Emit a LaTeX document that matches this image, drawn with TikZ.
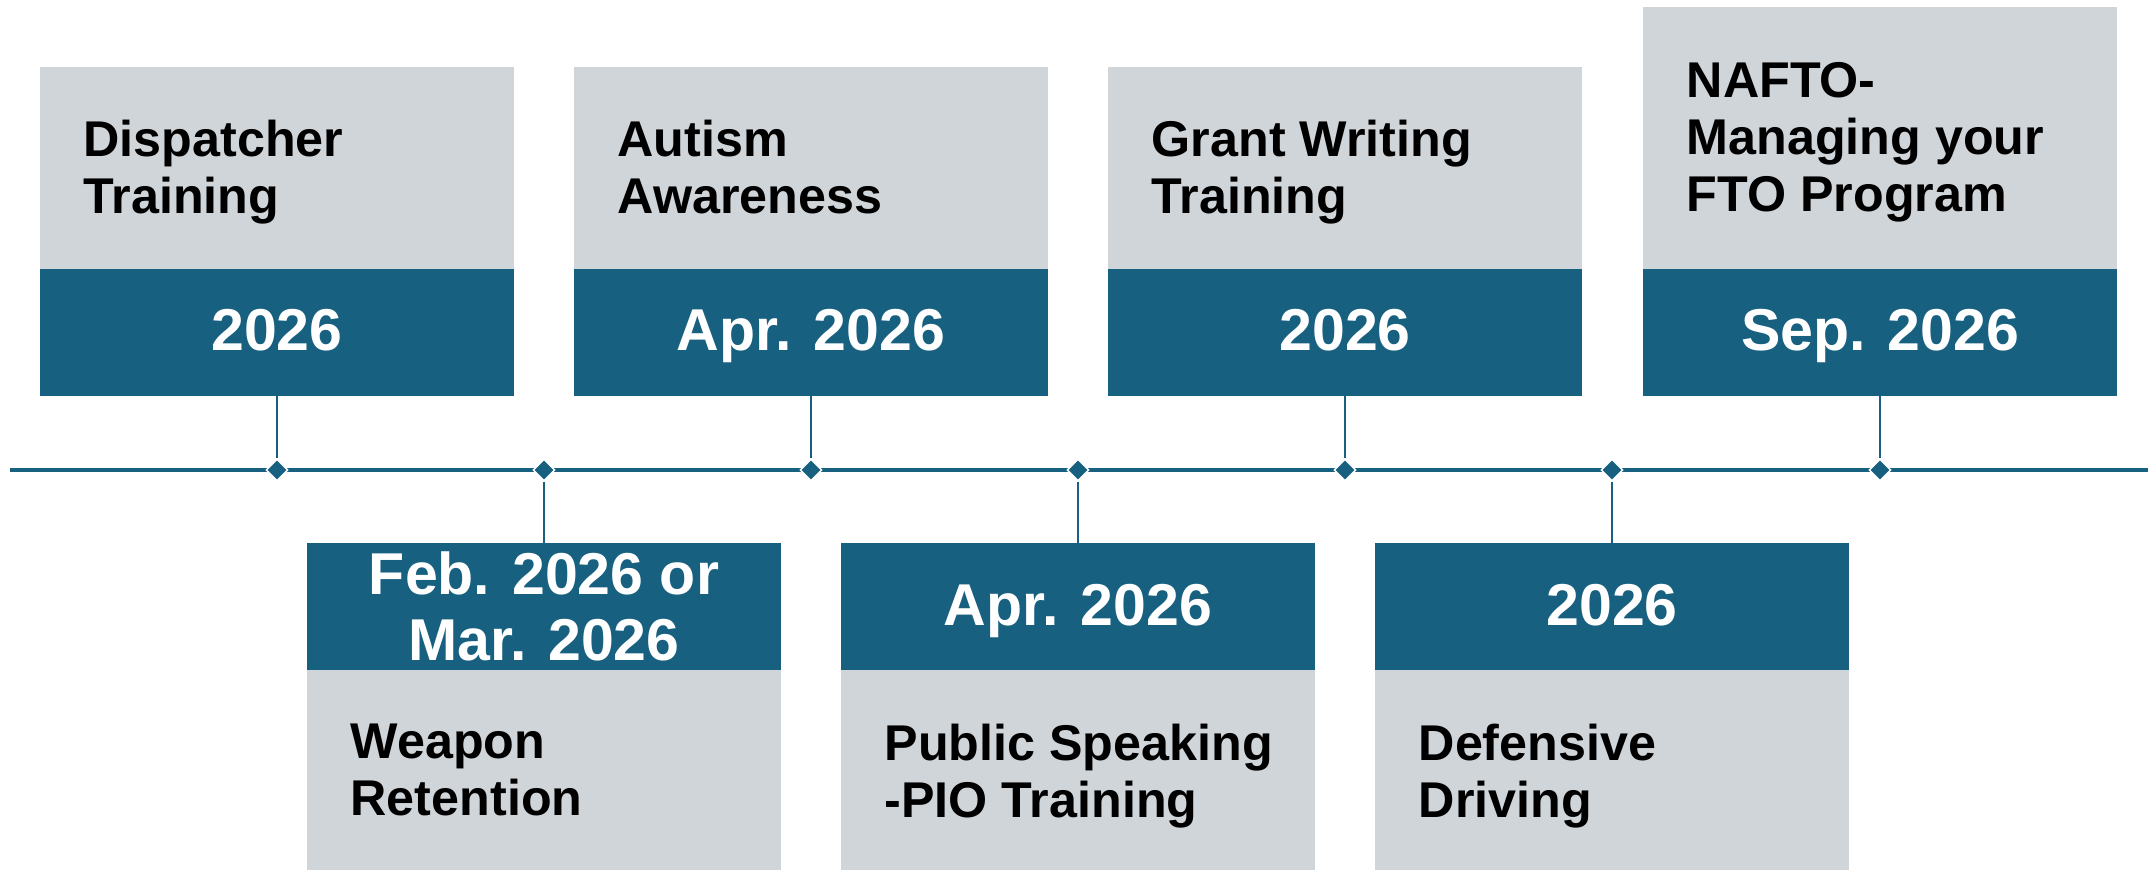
\documentclass[tikz,border=0pt]{standalone}
\usepackage{fontspec}
\setmainfont{Liberation Sans}
\usetikzlibrary{shapes.geometric}
\definecolor{tlblue}{HTML}{186080}
\definecolor{tlgray}{HTML}{D0D5DA}
\tikzset{
  datebox/.style={rectangle, fill=tlblue, minimum width=4.74cm, minimum height=1.275cm, inner sep=0pt, outer sep=0pt},
  topicbox/.style={rectangle, fill=tlgray, minimum width=4.74cm, inner sep=0pt, outer sep=0pt},
  topictext/.style={anchor=north west, inner sep=0pt, align=left, font=\fontsize{14.3}{16.3}\selectfont\bfseries, text=black},
  datetext/.style={inner sep=0pt, align=center, font=\fontsize{16.8}{19}\selectfont\bfseries, text=white},
  milestone/.style={diamond, fill=tlblue, draw=white, line width=0.4pt, minimum width=0.22cm, minimum height=0.22cm, inner sep=0pt},
  stem/.style={draw=tlblue, line width=0.6pt},
  timeline/.style={draw=tlblue, line width=0.95pt}
}
\begin{document}
\begin{tikzpicture}
\useasboundingbox (0,0) rectangle (21.48,-8.69);
\fill[white] (0,0) rectangle (21.48,-8.69);

% timeline
\coordinate (tlstart) at (0.10,-4.70);
\coordinate (tlend) at (21.48,-4.70);
\draw[timeline] (tlstart) -- (tlend);

% milestones
\node[milestone] (m1) at (2.77,-4.70) {};
\node[milestone] (m2) at (5.44,-4.70) {};
\node[milestone] (m3) at (8.11,-4.70) {};
\node[milestone] (m4) at (10.78,-4.70) {};
\node[milestone] (m5) at (13.45,-4.70) {};
\node[milestone] (m6) at (16.12,-4.70) {};
\node[milestone] (m7) at (18.80,-4.70) {};

% upper boxes
\node[datebox, anchor=north] (b1) at (2.77,-2.685) {};
\node[topicbox, minimum height=2.015cm, anchor=south] (g1) at (b1.north) {};
\node[topictext] (t1) at (0.83,-1.19) {Dispatcher\\Training};
\node[datetext, anchor=base] (d1) at (2.77,-3.505) {2026};

\node[datebox, anchor=north] (b3) at (8.11,-2.685) {};
\node[topicbox, minimum height=2.015cm, anchor=south] (g3) at (b3.north) {};
\node[topictext] (t3) at (6.17,-1.19) {Autism\\Awareness};
\node[datetext, anchor=base] (d3) at (8.11,-3.505) {Apr. 2026};

\node[datebox, anchor=north] (b5) at (13.45,-2.685) {};
\node[topicbox, minimum height=2.015cm, anchor=south] (g5) at (b5.north) {};
\node[topictext] (t5) at (11.51,-1.19) {Grant Writing\\Training};
\node[datetext, anchor=base] (d5) at (13.45,-3.505) {2026};

\node[datebox, anchor=north] (b7) at (18.80,-2.685) {};
\node[topicbox, minimum height=2.615cm, anchor=south] (g7) at (b7.north) {};
\node[topictext] (t7) at (16.86,-0.615) {NAFTO-\\Managing your\\FTO Program};
\node[datetext, anchor=base] (d7) at (18.80,-3.505) {Sep. 2026};

% lower boxes
\node[datebox, anchor=north, minimum height=1.27cm] (b2) at (5.44,-5.43) {};
\node[topicbox, minimum height=2.01cm, anchor=north] (g2) at (b2.south) {};
\node[topictext] (t2) at (3.50,-7.23) {Weapon\\Retention};
\node[datetext] (d2) at (5.44,-6.065) {Feb. 2026 or\\Mar. 2026};

\node[datebox, anchor=north, minimum height=1.27cm] (b4) at (10.78,-5.43) {};
\node[topicbox, minimum height=2.01cm, anchor=north] (g4) at (b4.south) {};
\node[topictext] (t4) at (8.84,-7.23) {Public Speaking\\-PIO Training};
\node[datetext, anchor=base] (d4) at (10.78,-6.255) {Apr. 2026};

\node[datebox, anchor=north, minimum height=1.27cm] (b6) at (16.12,-5.43) {};
\node[topicbox, minimum height=2.01cm, anchor=north] (g6) at (b6.south) {};
\node[topictext] (t6) at (14.18,-7.23) {Defensive\\Driving};
\node[datetext, anchor=base] (d6) at (16.12,-6.255) {2026};

% stems
\draw[stem] (b1.south) -- (m1.north);
\draw[stem] (b3.south) -- (m3.north);
\draw[stem] (b5.south) -- (m5.north);
\draw[stem] (b7.south) -- (m7.north);
\draw[stem] (m2.south) -- (b2.north);
\draw[stem] (m4.south) -- (b4.north);
\draw[stem] (m6.south) -- (b6.north);
\end{tikzpicture}
\end{document}
